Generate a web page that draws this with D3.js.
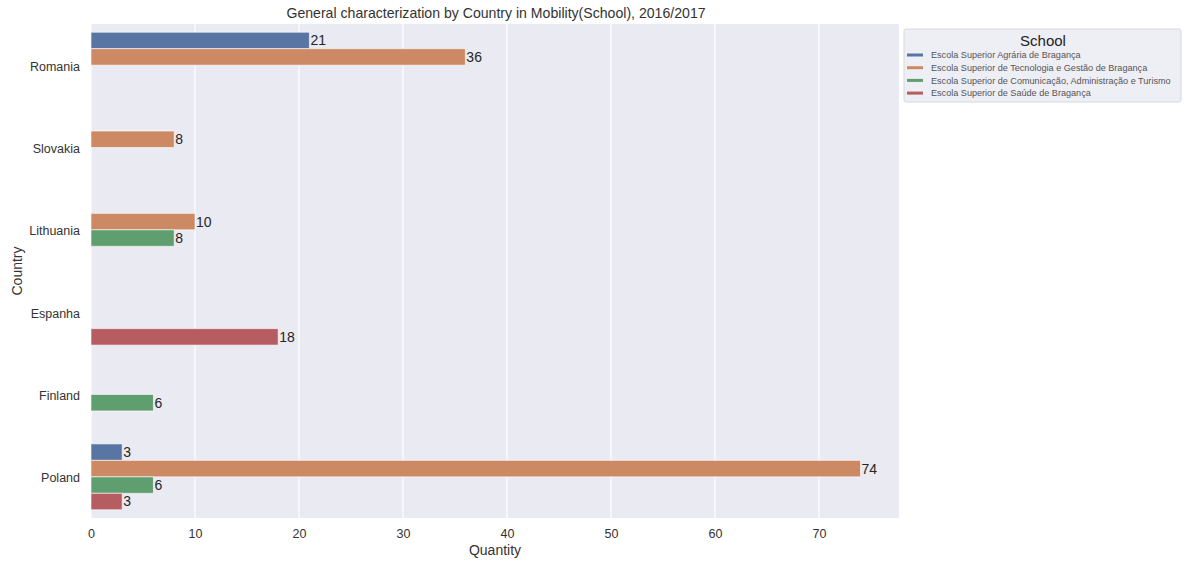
<!DOCTYPE html>
<html><head><meta charset="utf-8">
<script src="https://cdn.jsdelivr.net/npm/d3@7"></script>
<style>body{margin:0;background:#fff;font-family:"Liberation Sans",Arial,sans-serif;}</style>
</head><body><svg id="c" width="1187" height="563"></svg>
<script>
const countries = ["Romania","Slovakia","Lithuania","Espanha","Finland","Poland"];
const schools = ["Escola Superior Agrária de Bragança","Escola Superior de Tecnologia e Gestão de Bragança","Escola Superior de Comunicação, Administração e Turismo","Escola Superior de Saúde de Bragança"];
const agraria   = [21, null, null, null, null, 3];
const tecnologia= [36, 8, 10, null, null, 74];
const comunicacao=[null, null, 8, null, 6, 6];
const saude     = [null, null, null, 18, null, 3];
const seriesValues = [agraria, tecnologia, comunicacao, saude];
const xTicks = [0,10,20,30,40,50,60,70];
const colors = ["#5975a4","#cc8963","#5f9e6e","#b55d60"];

const svg = d3.select("#c");
const m = {l:91, r:899, t:24, b:518};
const x = d3.scaleLinear().domain([0, 74*1.05]).range([m.l, m.r]);
const y = d3.scaleBand().domain(countries).range([m.t, m.b]).paddingInner(0.2).paddingOuter(0.1);
const yIn = d3.scaleBand().domain(d3.range(4)).range([0, y.bandwidth()]);

svg.append("rect").attr("x",m.l).attr("y",m.t).attr("width",m.r-m.l).attr("height",m.b-m.t).attr("fill","#eaeaf2");
svg.append("g").selectAll("line").data(xTicks).join("line")
  .attr("x1",d=>x(d)).attr("x2",d=>x(d)).attr("y1",m.t).attr("y2",m.b)
  .attr("stroke","#fff").attr("stroke-width",1.2);

const data = [];
seriesValues.forEach((s,i)=>s.forEach((v,j)=>{ if(v!=null) data.push({c:countries[j], s:i, v}); }));

svg.append("g").selectAll("rect").data(data).join("rect")
  .attr("x",x(0)).attr("y",d=>y(d.c)+yIn(d.s)).attr("width",d=>x(d.v)-x(0)).attr("height",yIn.bandwidth())
  .attr("fill",d=>colors[d.s]).attr("stroke","#fff").attr("stroke-opacity",0.6).attr("stroke-width",1);

svg.append("g").selectAll("text").data(data).join("text")
  .attr("x",d=>x(d.v)+1).attr("y",d=>y(d.c)+yIn(d.s)+yIn.bandwidth()/2)
  .attr("dy","0.35em").attr("font-size",14).attr("fill","#262626").text(d=>d.v);

// axes
const xa = svg.append("g").attr("transform",`translate(0,${m.b})`).call(d3.axisBottom(x).tickValues(xTicks).tickSize(0).tickPadding(11));
xa.select(".domain").remove();
xa.selectAll("text").attr("font-size",12.5).attr("fill","#333").attr("font-family","Liberation Sans, Arial, sans-serif");
const ya = svg.append("g").attr("transform",`translate(${m.l},0)`).call(d3.axisLeft(y).tickSize(0).tickPadding(11));
ya.select(".domain").remove();
ya.selectAll("text").attr("font-size",12.5).attr("fill","#333").attr("dy","0.45em").attr("font-family","Liberation Sans, Arial, sans-serif");

svg.append("text").attr("x",(m.l+m.r)/2).attr("y",555).attr("text-anchor","middle").attr("font-size",14).attr("fill","#333").text("Quantity");
svg.append("text").attr("transform",`translate(22,${(m.t+m.b)/2}) rotate(-90)`).attr("text-anchor","middle").attr("font-size",14).attr("fill","#333").text("Country");
svg.append("text").attr("x",496).attr("y",18).attr("text-anchor","middle").attr("font-size",14.1).attr("fill","#333").text("General characterization by Country in Mobility(School), 2016/2017");

// legend
const lg = svg.append("g").attr("transform","translate(904,29)");
lg.append("rect").attr("width",277).attr("height",73).attr("fill","#eaeaf2").attr("fill-opacity",0.8).attr("stroke","#d8d8e0").attr("rx",2);
lg.append("text").attr("x",139).attr("y",17).attr("text-anchor","middle").attr("font-size",15).attr("fill","#222").text("School");
schools.forEach((s,i)=>{
  const yy = 26 + i*12.7;
  lg.append("rect").attr("x",3).attr("y",yy-1.5).attr("width",16).attr("height",3).attr("fill",colors[i]);
  lg.append("text").attr("x",27).attr("y",yy).attr("dy","0.35em").attr("font-size",9.1).attr("fill","#555").text(s);
});
</script></body></html>
